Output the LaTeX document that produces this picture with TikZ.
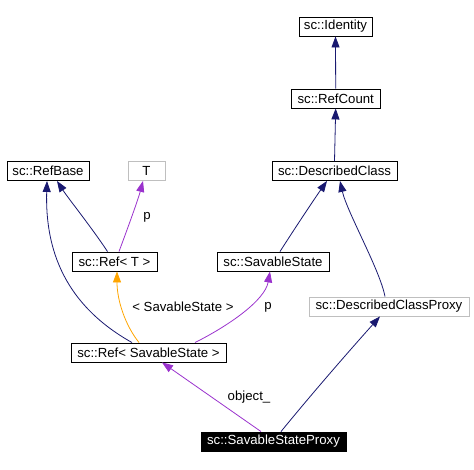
\documentclass[tikz,border=0pt]{standalone}
\usepackage{fontspec}
\setmainfont{Liberation Sans}
\usetikzlibrary{arrows.meta}
\definecolor{navy}{HTML}{191970}
\definecolor{purp}{HTML}{9A32CD}
\definecolor{orng}{HTML}{FFA500}
\definecolor{gry}{HTML}{BFBFBF}
\tikzset{
  cls/.style={draw=black, line width=0.9pt, fill=white, inner sep=0pt, minimum height=19pt, font=\fontsize{13.2}{15}\selectfont, text=black},
  graycls/.style={cls, draw=gry},
  cur/.style={cls, fill=black, text=white},
  lbl/.style={font=\fontsize{13.2}{15}\selectfont, inner sep=0pt},
  edge/.style={line width=0.8pt, -{Triangle[length=11pt,width=8pt]}},
  inh/.style={edge, draw=navy},
  use/.style={edge, draw=purp},
  tmpl/.style={edge, draw=orng},
}
\begin{document}
\begin{tikzpicture}[x=1pt,y=-1pt]
\useasboundingbox (0,0) rectangle (474,470);
\node[cls, minimum width=73pt] (identity) at (335.5,26.5) {sc::Identity};
\node[cls, minimum width=88.5pt] (refcount) at (335.7,98.5) {sc::RefCount};
\node[cls, minimum width=125pt] (dc) at (334.5,171) {sc::DescribedClass};
\node[cls, minimum width=82pt] (refbase) at (48,171) {sc::RefBase};
\node[graycls, minimum width=37pt] (T) at (146.5,171) {T};
\node[cls, minimum width=85pt] (refT) at (114.5,261.5) {sc::Ref< T >};
\node[cls, minimum width=112pt] (ss) at (273,261.5) {sc::SavableState};
\node[graycls, minimum width=160pt] (dcp) at (389,306.5) {sc::DescribedClassProxy};
\node[cls, minimum width=155pt] (refss) at (148.5,352.5) {sc::Ref< SavableState >};
\node[cur, minimum width=145pt] (ssp) at (273.5,441.5) {sc::SavableStateProxy};

\draw[inh] (refcount.north) -- (identity.south);
\draw[inh] (dc.north) -- (refcount.south);
\draw[inh] ([xshift=-7pt]refT.north) .. controls (92,228) and (68,198) .. ([xshift=9pt]refbase.south);
\draw[use] ([xshift=4.5pt]refT.north) .. controls (127,230) and (138,200) .. ([xshift=-3.5pt]T.south);
\node[lbl] (lp1) at (147,217) {p};
\draw[inh] ([xshift=-16.5pt]refss.north) .. controls (65,305) and (45,250) .. ([xshift=-1pt]refbase.south);
\draw[tmpl] ([xshift=-9.5pt]refss.north) .. controls (125,325) and (117,300) .. ([xshift=2.5pt]refT.south);
\node[lbl] (lss) at (183,307) {< SavableState >};
\draw[use] ([xshift=46.5pt]refss.north) .. controls (230,325) and (265,300) .. ([xshift=-3pt]ss.south);
\node[lbl] (lp2) at (268,307) {p};
\draw[inh] ([xshift=7pt]ss.north) .. controls (295,228) and (315,198) .. ([xshift=-7.5pt]dc.south);
\draw[inh] ([xshift=-4pt]dcp.north) .. controls (380,270) and (347,212) .. ([xshift=5.5pt]dc.south);
\draw[use] ([xshift=-12.5pt]ssp.north) -- ([xshift=13.5pt]refss.south);
\node[lbl] (lobj) at (249,397) {object\_};
\draw[inh] ([xshift=7.5pt]ssp.north) .. controls (315,390) and (350,350) .. ([xshift=-9pt]dcp.south);
\end{tikzpicture}
\end{document}
